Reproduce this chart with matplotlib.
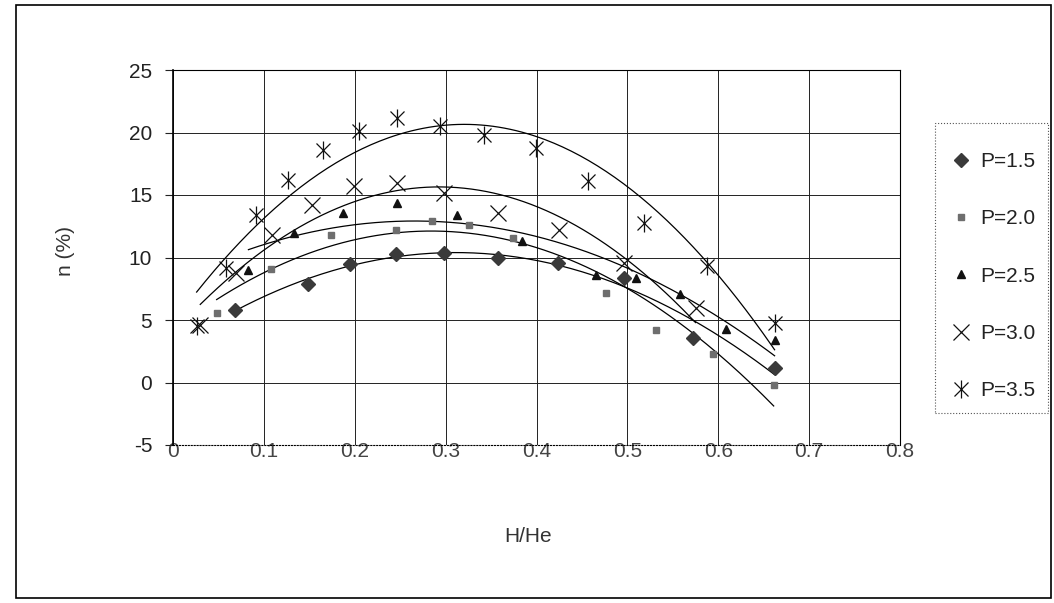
import numpy as np
import matplotlib
matplotlib.use("Agg")
import matplotlib.pyplot as plt
from matplotlib.patches import Rectangle

plt.rcParams['font.family'] = ['Liberation Sans', 'DejaVu Sans']
plt.rcParams['axes.unicode_minus'] = False

# data (H/He vs efficiency n %)
x_p15 = [0.068, 0.149, 0.195, 0.245, 0.298, 0.358, 0.424, 0.496, 0.572, 0.662]
y_p15 = [5.8, 7.9, 9.5, 10.3, 10.4, 10.0, 9.6, 8.4, 3.6, 1.2]

x_p20 = [0.048, 0.108, 0.174, 0.245, 0.285, 0.326, 0.374, 0.476, 0.532, 0.594, 0.661]
y_p20 = [5.6, 9.1, 11.8, 12.2, 12.9, 12.6, 11.6, 7.2, 4.2, 2.3, -0.2]

x_p25 = [0.083, 0.133, 0.187, 0.246, 0.312, 0.384, 0.466, 0.509, 0.558, 0.609, 0.662]
y_p25 = [9.0, 12.0, 13.6, 14.4, 13.4, 11.3, 8.6, 8.4, 7.1, 4.3, 3.4]

x_p30 = [0.030, 0.069, 0.109, 0.153, 0.199, 0.246, 0.298, 0.358, 0.425, 0.496, 0.575]
y_p30 = [4.6, 8.8, 11.8, 14.2, 15.7, 16.0, 15.2, 13.6, 12.2, 9.6, 6.0]

x_p35 = [0.026, 0.058, 0.091, 0.127, 0.165, 0.205, 0.246, 0.294, 0.342, 0.399, 0.457, 0.518, 0.588, 0.662]
y_p35 = [4.5, 9.2, 13.4, 16.2, 18.6, 20.1, 21.2, 20.5, 19.8, 18.8, 16.1, 12.8, 9.3, 4.8]

labels = ['P=1.5', 'P=2.0', 'P=2.5', 'P=3.0', 'P=3.5']
x_ticks = [0, 0.1, 0.2, 0.3, 0.4, 0.5, 0.6, 0.7, 0.8]
x_ticklabels = ['0', '0.1', '0.2', '0.3', '0.4', '0.5', '0.6', '0.7', '0.8']
y_ticks = [-5, 0, 5, 10, 15, 20, 25]

W, H = 1054, 603
fig = plt.figure(figsize=(W / 100, H / 100), dpi=100)
ax = fig.add_axes([173 / W, 1 - 445 / H, 727 / W, 375 / H])

# outer chart border
fig.patches.append(Rectangle((16 / W, 1 - 598 / H), 1035 / W, 593 / H, transform=fig.transFigure,
                             fill=False, edgecolor='black', linewidth=1.2))
# legend box
fig.patches.append(Rectangle((935 / W, 1 - 413 / H), 113 / W, 290 / H, transform=fig.transFigure,
                             fill=False, edgecolor='#555555', linewidth=0.8, linestyle=':'))


def trend(xs, ys):
    # 2nd order polynomial trendline like Excel
    c = np.polyfit(xs, ys, 2)
    xx = np.linspace(min(xs), max(xs), 200)
    ax.plot(xx, np.polyval(c, xx), color='black', linewidth=0.9, zorder=2)


for xs, ys in [(x_p15, y_p15), (x_p20, y_p20), (x_p25, y_p25), (x_p30, y_p30), (x_p35, y_p35)]:
    trend(xs, ys)

h1, = ax.plot(x_p15, y_p15, 'D', color='#3a3a3a', markersize=7, linestyle='none', zorder=3)
h2, = ax.plot(x_p20, y_p20, 's', color='#6e6e6e', markersize=5, linestyle='none', zorder=3)
h3, = ax.plot(x_p25, y_p25, '^', color='#111111', markersize=6, linestyle='none', zorder=3)
h4, = ax.plot(x_p30, y_p30, 'x', color='#111111', markersize=11, markeredgewidth=0.9,
              linestyle='none', zorder=3)
h5a, = ax.plot(x_p35, y_p35, 'x', color='#111111', markersize=10, markeredgewidth=0.9,
               linestyle='none', zorder=3)
h5b, = ax.plot(x_p35, y_p35, '|', color='#111111', markersize=13, markeredgewidth=0.9,
               linestyle='none', zorder=3)

ax.set_xlim(0, 0.8)
ax.set_ylim(-5, 25)
ax.set_xticks(x_ticks)
ax.set_xticklabels(x_ticklabels)
ax.set_yticks(y_ticks)
ax.grid(True, color='#222222', linewidth=0.7)
ax.set_axisbelow(True)
for s in ax.spines.values():
    s.set_color('black')
    s.set_linewidth(0.8)
ax.spines['left'].set_linewidth(1.2)
ax.spines['bottom'].set_linestyle(':')

ax.tick_params(axis='y', direction='out', length=6, labelsize=15, colors='#222222', pad=9)
ax.tick_params(axis='x', length=0, labelsize=15, colors='#444444', pad=-2)

ax.set_ylabel('n (%)', fontsize=15, color='#333333')
ax.yaxis.set_label_coords((75 - 173) / 727, (445 - 251) / 375)
ax.set_xlabel('H/He', fontsize=15, color='#333333', va='center')
ax.xaxis.set_label_coords((528 - 173) / 727, (445 - 536) / 375)

leg = fig.legend([h1, h2, h3, h4, (h5a, h5b)], labels,
                 loc='upper left', bbox_to_anchor=(951 / W, 1 - 152 / H), frameon=False,
                 fontsize=15, labelspacing=1.84, handlelength=1.0,
                 handletextpad=0.4, borderpad=0, borderaxespad=0)
for t in leg.get_texts():
    t.set_color('#222222')

fig.savefig('out.png', dpi=100)
